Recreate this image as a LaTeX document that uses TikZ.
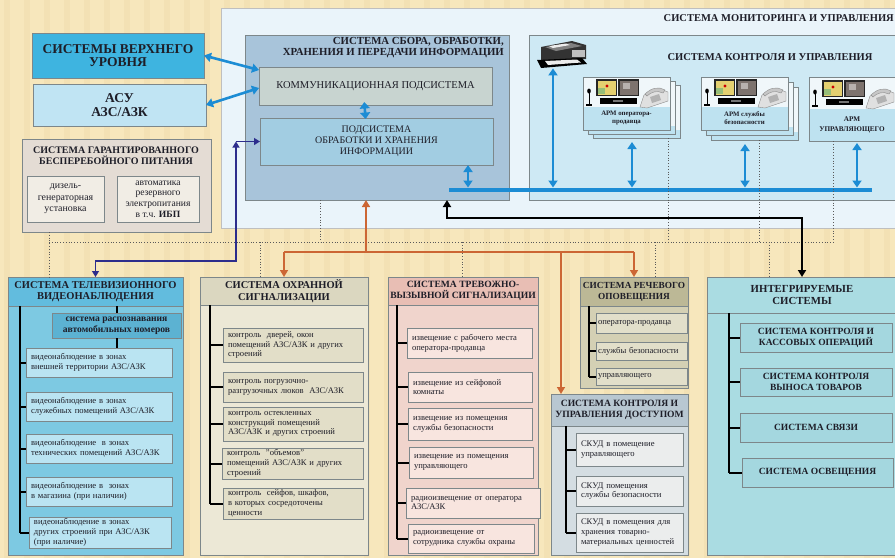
\documentclass[tikz,border=0pt]{standalone}
\usepackage{fontspec}
\setmainfont{Liberation Serif}
\usetikzlibrary{arrows.meta}
\definecolor{bg}{RGB}{247,231,188}
\definecolor{bgs}{RGB}{236,214,166}
\definecolor{bord}{RGB}{125,135,138}
\definecolor{monbg}{RGB}{234,244,250}
\definecolor{ctrlbg}{RGB}{206,233,244}
\definecolor{sbobg}{RGB}{168,196,218}
\definecolor{kommbg}{RGB}{200,212,208}
\definecolor{podbg}{RGB}{162,205,226}
\definecolor{vubg}{RGB}{62,180,224}
\definecolor{asubg}{RGB}{192,228,243}
\definecolor{pwbg}{RGB}{228,220,212}
\definecolor{pwin}{RGB}{241,237,229}
\definecolor{tvbg}{RGB}{125,201,226}
\definecolor{tvhd}{RGB}{98,188,222}
\definecolor{tvsub}{RGB}{92,178,210}
\definecolor{tvit}{RGB}{186,228,242}
\definecolor{ohbg}{RGB}{236,232,214}
\definecolor{ohhd}{RGB}{219,215,192}
\definecolor{ohit}{RGB}{226,222,200}
\definecolor{trbg}{RGB}{240,212,204}
\definecolor{trhd}{RGB}{232,190,180}
\definecolor{trit}{RGB}{248,229,223}
\definecolor{rebg}{RGB}{212,208,180}
\definecolor{rehd}{RGB}{188,184,150}
\definecolor{reit}{RGB}{226,223,202}
\definecolor{skbg}{RGB}{212,221,226}
\definecolor{skhd}{RGB}{184,199,209}
\definecolor{skit}{RGB}{235,237,237}
\definecolor{inbg}{RGB}{170,220,226}
\definecolor{init}{RGB}{164,215,223}
\definecolor{bluA}{RGB}{28,140,212}
\definecolor{navyA}{RGB}{45,45,140}
\definecolor{oraA}{RGB}{204,102,52}
\definecolor{dotc}{RGB}{90,90,90}
\definecolor{cardbg}{RGB}{240,247,250}
\definecolor{bandbg}{RGB}{190,226,240}
\definecolor{txt}{RGB}{30,30,40}
\definecolor{mapy}{RGB}{228,208,112}
\definecolor{mapg}{RGB}{150,190,120}
\definecolor{scrb}{RGB}{125,115,110}
\newcommand\myfs[2]{\fontsize{#1}{#2}\selectfont}
\newcommand\mkitem[7]{\node[it, fill=#2, minimum width=#5pt, minimum height=#6pt, text width=\the\numexpr#5-10\relax pt] (#1) at (#3,#4) {#7};}
\newcommand\apmicons[2]{%
\begin{scope}[shift={(#1,#2)}]
\fill[black!85] (13,2) rectangle (34,19);
\fill[mapy] (14.5,3.5) rectangle (32.5,17.5);
\fill[mapg] (15,11) rectangle (22,17);
\fill[red!80!black] (24,9) circle (1.6);
\fill[black!85] (35,2) rectangle (56,19);
\fill[scrb] (36.5,3.5) rectangle (54.5,17.5);
\fill[scrb!55!white] (40,6) rectangle (47,12);
\fill[black] (17,21) rectangle (54,27);
\fill[black!55] (30,22.5) rectangle (40,24.5);
\draw[black, line width=1pt] (6,16) -- (6,27);
\fill[black] (6,14) ellipse (1.8 and 2.5);
\fill[black] (3,27) rectangle (9,29);
\filldraw[fill=black!12, draw=black!45, line width=0.4pt] (57,30) -- (61,18) -- (77,12) -- (85,15) -- (85,24) -- (64,31) -- cycle;
\filldraw[fill=black!22, draw=black!45, line width=0.4pt] (62,17) .. controls (68,11) and (76,9) .. (82,13) -- (80,16) .. controls (74,13) and (68,15) .. (64,19) -- cycle;
\fill[black!30] (67,20) -- (76,17) -- (78,23) -- (69,26) -- cycle;
\end{scope}}
\tikzset{
 x=1pt, y=-1pt,
 bx/.style={draw=bord, line width=0.6pt, inner sep=0pt, outer sep=0pt, anchor=north west, text=txt},
 hd/.style={bx, align=center, font=\bfseries\myfs{10.5}{11.5}},
 it/.style={bx, align=left, font=\myfs{8.6}{9.8}},
 itc/.style={bx, align=center, font=\bfseries\myfs{9.5}{11}},
 ttl/.style={inner sep=0pt, text=txt, font=\bfseries\myfs{10.5}{11.5}},
 tree/.style={line width=2pt, black},
 barr/.style={line width=2.6pt, bluA, {Triangle[width=9pt,length=7pt]}-{Triangle[width=9pt,length=7pt]}},
 navl/.style={line width=1.2pt, navyA},
 oral/.style={line width=1.6pt, oraA},
 blkl/.style={line width=1.8pt, black},
 dotl/.style={line width=0.8pt, dotc, dotted},
 cardf/.style={bx, fill=cardbg, path picture={\fill[bandbg] ([yshift=#1]path picture bounding box.south west) rectangle (path picture bounding box.south east);}},
 armt/.style={inner sep=0pt, align=center, text=txt, font=\bfseries\myfs{6.8}{8}},
}
\begin{document}
\begin{tikzpicture}
\fill[bg] (0,0) rectangle (895,558);
\useasboundingbox (0,0) rectangle (895,558);
\foreach \i in {0,...,44} \fill[bgs, opacity=0.35] (\i*20+4,0) rectangle (\i*20+10,558);

% ---------- top region ----------
\node[bx, fill=monbg, draw=black!25, minimum width=680pt, minimum height=220pt] (mon) at (221,8) {};
\node[ttl, anchor=east] (montt) at (894,18) {СИСТЕМА МОНИТОРИНГА И УПРАВЛЕНИЯ};

\node[bx, fill=sbobg, minimum width=264pt, minimum height=165pt] (sbo) at (245,35) {};
\node[ttl, align=right, anchor=north east, font=\bfseries\myfs{10.8}{11.5}] (sbot) at (504,37) {СИСТЕМА СБОРА, ОБРАБОТКИ,\\ХРАНЕНИЯ И ПЕРЕДАЧИ ИНФОРМАЦИИ};
\node[bx, fill=kommbg, minimum width=233pt, minimum height=38pt, font=\myfs{10.5}{11}] (komm) at (259,67) {КОММУНИКАЦИОННАЯ ПОДСИСТЕМА};
\node[bx, fill=podbg, minimum width=233pt, minimum height=47pt, align=center, font=\myfs{10}{11}] (pod) at (260,118) {ПОДСИСТЕМА\\ОБРАБОТКИ И ХРАНЕНИЯ\\ИНФОРМАЦИИ};

\node[bx, fill=ctrlbg, minimum width=372pt, minimum height=165pt] (ctrl) at (529,35) {};
\node[ttl] (ctrlt) at (770,57) {СИСТЕМА КОНТРОЛЯ И УПРАВЛЕНИЯ};

% printer
\node[inner sep=0pt, minimum width=50pt, minimum height=28pt, anchor=north west] (prn) at (537,40) {};
\fill[black!80] (541,47) -- (572,41) -- (586,45) -- (586,59) -- (541,62) -- cycle;
\fill[black!50] (545,47) -- (571,43) -- (582,46) -- (556,51) -- cycle;
\fill[white!85!gray] (549,46) -- (566,43.5) -- (570,45) -- (553,48) -- cycle;
\fill[black!25] (572,50) rectangle (585,57);
\fill[black] (537,60) -- (582,58) -- (587,64) -- (541,68) -- cycle;
\fill[white!85!gray] (545,61) -- (577,59.5) -- (581,62.5) -- (548,65) -- cycle;

% APM cards
\node[cardf=8pt, minimum width=87pt, minimum height=53pt] (a1c) at (593,85) {};
\node[cardf=8pt, minimum width=87pt, minimum height=53pt] (a1b) at (588,81) {};
\node[cardf=23pt, minimum width=87pt, minimum height=53pt] (a1) at (583,77) {};
\apmicons{583}{77}
\node[armt] (a1t) at (626.5,118) {АРМ оператора-\\продавца};

\node[cardf=8pt, minimum width=87pt, minimum height=53pt] (a2c) at (711,87) {};
\node[cardf=8pt, minimum width=87pt, minimum height=53pt] (a2b) at (706,82) {};
\node[cardf=23pt, minimum width=87pt, minimum height=53pt] (a2) at (701,77) {};
\apmicons{701}{77}
\node[armt] (a2t) at (744.5,118) {АРМ службы\\безопасности};

\node[cardf=32pt, minimum width=90pt, minimum height=64pt] (a3) at (809,77) {};
\apmicons{809}{78}
\node[armt, font=\bfseries\myfs{7.2}{9.5}] (a3t) at (852,125) {АРМ\\УПРАВЛЯЮЩЕГО};

% bus and blue arrows
\coordinate (busL) at (449,190);
\coordinate (busR) at (872,190);
\coordinate (b0) at (468,187.5);
\coordinate (bp) at (553,187.5);
\coordinate (b1) at (632,187.5);
\coordinate (b2) at (745,187.5);
\coordinate (b3) at (857,187.5);
\draw[barr] (b0 |- pod.south) -- (b0);
\draw[barr] (bp |- prn.south) -- (bp);
\draw[barr, shorten <=4pt] (b1 |- a1c.south) -- (b1);
\draw[barr, shorten <=4pt] (b2 |- a2c.south) -- (b2);
\draw[barr, shorten <=2pt] (b3 |- a3.south) -- (b3);
\draw[bluA, line width=4.5pt] (busL) -- (busR);
\draw[line width=2.6pt, bluA, {Triangle[width=10pt,length=6.5pt]}-{Triangle[width=10pt,length=6.5pt]}, shorten <=-3pt, shorten >=-1pt] ([xshift=-11pt]komm.south) -- ([xshift=-11pt]pod.north);

% left top boxes
\node[bx, fill=vubg, minimum width=172pt, minimum height=45pt, align=center, font=\bfseries\myfs{13.5}{13.5}] (vu) at (32,33) {СИСТЕМЫ ВЕРХНЕГО\\УРОВНЯ};
\node[bx, fill=asubg, minimum width=173pt, minimum height=42pt, align=center, font=\bfseries\myfs{13.5}{14.5}] (asu) at (33,84) {АСУ\\АЗС/АЗК};
\draw[barr] (vu.east) -- ([yshift=16pt]komm.west);
\draw[barr] (asu.east) -- ([yshift=-2pt]komm.west);

\node[bx, fill=pwbg, minimum width=189pt, minimum height=93pt] (pw) at (22,139) {};
\node[ttl, align=center, font=\bfseries\myfs{10}{11}] (pwt) at (116,155.5) {СИСТЕМА ГАРАНТИРОВАННОГО\\БЕСПЕРЕБОЙНОГО ПИТАНИЯ};
\node[bx, fill=pwin, minimum width=77pt, minimum height=46pt, align=center, font=\myfs{9.9}{11.5}] (pw1) at (27,176) {дизель-\\генераторная\\установка};
\node[bx, fill=pwin, minimum width=82pt, minimum height=46pt, align=center, font=\myfs{9.6}{10.8}] (pw2) at (117,176) {автоматика\\резервного\\электропитания\\в т.ч. \textbf{ИБП}};

% ---------- bottom systems ----------
% TV
\node[bx, fill=tvbg, minimum width=175pt, minimum height=278pt] (tv) at (8,277) {};
\node[hd, fill=tvhd, minimum width=175pt, minimum height=29pt] (tvh) at (8,277) {СИСТЕМА ТЕЛЕВИЗИОННОГО\\ВИДЕОНАБЛЮДЕНИЯ};
\node[bx, fill=tvsub, minimum width=129pt, minimum height=25pt, align=center, font=\bfseries\myfs{9.6}{10.6}] (tvs) at (52,313) {система распознавания\\автомобильных номеров};
\mkitem{tv1}{tvit}{26}{348}{146}{29}{видеонаблюдение в зонах\\внешней территории АЗС/АЗК}
\mkitem{tv2}{tvit}{26}{392}{146}{29}{видеонаблюдение в зонах\\служебных помещений АЗС/АЗК}
\mkitem{tv3}{tvit}{26}{434}{146}{29}{видеонаблюдение \ в зонах\\технических помещений АЗС/АЗК}
\mkitem{tv4}{tvit}{26}{477}{146}{29}{видеонаблюдение в \ зонах\\в магазина (при наличии)}
\mkitem{tv5}{tvit}{29}{517}{142}{31}{видеонаблюдение в зонах\\других строений при АЗС/АЗК\\(при наличие)}
\coordinate (tvx) at (20,0);
\draw[tree] (tvx |- tvh.south) -- (tvx |- tv5.west);
\foreach \n in {tv1,tv2,tv3,tv4,tv5} \draw[tree] (tvx |- \n.west) -- (\n.west);
\draw[tree] (tvs.north) -- (tvs.north |- tvh.south);
\draw[tree] (tvs.south) -- (tvs.south |- tv1.north);

% Ohrannoy
\node[bx, fill=ohbg, minimum width=168pt, minimum height=278pt] (oh) at (200,277) {};
\node[hd, fill=ohhd, minimum width=168pt, minimum height=28pt] (ohh) at (200,277) {СИСТЕМА ОХРАННОЙ\\СИГНАЛИЗАЦИИ};
\mkitem{oh1}{ohit}{223}{328}{140}{34}{контроль \ дверей, окон\\помещений АЗС/АЗК и других\\строений}
\mkitem{oh2}{ohit}{223}{372}{140}{30}{контроль погрузочно-\\разгрузочных люков \ АЗС/АЗК}
\mkitem{oh3}{ohit}{223}{407}{140}{34}{контроль остекленных\\конструкций помещений\\АЗС/АЗК и других строений}
\mkitem{oh4}{ohit}{222}{448}{141}{31}{контроль \ "объемов"\\помещений АЗС/АЗК и других\\строений}
\mkitem{oh5}{ohit}{223}{488}{140}{31}{контроль \ сейфов, шкафов,\\в которых сосредоточены\\ценности}
\coordinate (ohx) at (210,0);
\draw[tree] (ohx |- ohh.south) -- (ohx |- oh5.west);
\foreach \n in {oh1,oh2,oh3,oh4,oh5} \draw[tree] (ohx |- \n.west) -- (\n.west);

% Trevozhno
\node[bx, fill=trbg, minimum width=150pt, minimum height=278pt] (tr) at (388,277) {};
\node[hd, fill=trhd, minimum width=150pt, minimum height=28pt, font=\bfseries\myfs{9.6}{11.5}] (trh) at (388,277) {СИСТЕМА ТРЕВОЖНО-\\ВЫЗЫВНОЙ СИГНАЛИЗАЦИИ};
\mkitem{tr1}{trit}{407}{328}{125}{30}{извещение с рабочего места\\оператора-продавца}
\mkitem{tr2}{trit}{408}{372}{124}{30}{извещение из сейфовой\\комнаты}
\mkitem{tr3}{trit}{408}{408}{124}{32}{извещение из помещения\\службы безопасности}
\mkitem{tr4}{trit}{409}{447}{124}{31}{извещение из помещения\\управляющего}
\mkitem{tr5}{trit}{406}{488}{134}{30}{радиоизвещение от оператора\\АЗС/АЗК}
\mkitem{tr6}{trit}{408}{524}{126}{29}{радиоизвещение от\\сотрудника службы охраны}
\coordinate (trx) at (397,0);
\draw[tree] (trx |- trh.south) -- (trx |- tr6.west);
\foreach \n in {tr1,tr2,tr3,tr4,tr5,tr6} \draw[tree] (trx |- \n.west) -- (\n.west);

% Rechevogo
\node[bx, fill=rebg, minimum width=108pt, minimum height=111pt] (re) at (580,277) {};
\node[hd, fill=rehd, minimum width=108pt, minimum height=29pt, font=\bfseries\myfs{9.3}{11}] (reh) at (580,277) {СИСТЕМА РЕЧЕВОГО\\ОПОВЕЩЕНИЯ};
\node[it, fill=reit, minimum width=91pt, minimum height=20pt, text width=87pt] (re1) at (596,313) {оператора-продавца};
\node[it, fill=reit, minimum width=91pt, minimum height=18pt, text width=87pt] (re2) at (596,342) {службы безопасности};
\node[it, fill=reit, minimum width=91pt, minimum height=17pt, text width=87pt] (re3) at (596,368) {управляющего};
\coordinate (rex) at (589,0);
\draw[tree] (rex |- reh.south) -- (rex |- re3.west);
\foreach \n in {re1,re2,re3} \draw[tree] (rex |- \n.west) -- (\n.west);

% SKUD
\node[bx, fill=skbg, minimum width=137pt, minimum height=161pt] (sk) at (551,394) {};
\node[hd, fill=skhd, minimum width=137pt, minimum height=32pt, font=\bfseries\myfs{9.6}{11}] (skh) at (551,394) {СИСТЕМА КОНТРОЛЯ И\\УПРАВЛЕНИЯ ДОСТУПОМ};
\mkitem{sk1}{skit}{576}{433}{107}{33}{СКУД в помещение\\управляющего}
\mkitem{sk2}{skit}{576}{476}{107}{30}{СКУД помещения\\службы безопасности}
\mkitem{sk3}{skit}{576}{513}{107}{39}{СКУД в помещения для\\хранения товарно-\\материальных ценностей}
\coordinate (skx) at (566,0);
\draw[tree] (skx |- skh.south) -- (skx |- sk3.west);
\foreach \n in {sk1,sk2,sk3} \draw[tree] (skx |- \n.west) -- (\n.west);

% Integrated
\node[bx, fill=inbg, minimum width=190pt, minimum height=278pt] (in) at (707,277) {};
\node[hd, fill=inbg, minimum width=190pt, minimum height=36pt, font=\bfseries\myfs{10.8}{12}] (inh) at (707,277) {ИНТЕГРИРУЕМЫЕ\\СИСТЕМЫ};
\node[itc, fill=init, minimum width=152pt, minimum height=29pt] (in1) at (740,323) {СИСТЕМА КОНТРОЛЯ И\\КАССОВЫХ ОПЕРАЦИЙ};
\node[itc, fill=init, minimum width=152pt, minimum height=28pt] (in2) at (740,368) {СИСТЕМА КОНТРОЛЯ\\ВЫНОСА ТОВАРОВ};
\node[itc, fill=init, minimum width=152pt, minimum height=29pt] (in3) at (740,413) {СИСТЕМА СВЯЗИ};
\node[itc, fill=init, minimum width=151pt, minimum height=29pt] (in4) at (742,458) {СИСТЕМА ОСВЕЩЕНИЯ};
\coordinate (inx) at (729,0);
\draw[tree] (inx |- inh.south) -- (inx |- in4.west);
\foreach \n in {in1,in2,in3,in4} \draw[tree] (inx |- \n.west) -- (\n.west);

% ---------- dotted network ----------
\coordinate (dl) at (49,242);
\coordinate (dr) at (833,242);
\coordinate (d2) at (260,242);
\coordinate (d3) at (320,242);
\coordinate (d4) at (462,242);
\coordinate (d5) at (655,242);
\coordinate (d6) at (668,242);
\coordinate (d7) at (759,242);
\coordinate (d8) at (769,242);
\draw[dotl] (dl) -- (dr);
\draw[dotl] (dl |- pw.south) -- (dl |- tvh.north);
\draw[dotl] (d2) -- (d2 |- ohh.north);
\draw[dotl] (d3 |- sbo.south) -- (d3);
\draw[dotl] (d4) -- (d4 |- trh.north);
\draw[dotl] (d5) -- (d5 |- reh.north);
\draw[dotl] (d6 |- a1c.south) -- (d6);
\draw[dotl] (d7 |- a2c.south) -- (d7);
\draw[dotl] (d8) -- (d8 |- inh.north);
\draw[dotl] (dr |- a3.south) -- (dr);

% ---------- coloured connectors ----------
\coordinate (nv) at (236,261);
\draw[navl, {Triangle[width=7pt,length=6pt]}-{Triangle[width=7pt,length=6pt]}] (pod.west -| nv) -- (nv) -- (nv -| tvh.north) -- (tvh.north);
\draw[navl, -{Triangle[width=7pt,length=6pt]}] (nv |- pod.west) -- (pod.west);

\coordinate (or1) at (366,252);
\coordinate (or2) at (561,252);
\draw[oral, -{Triangle[width=8pt,length=7pt]}] (or1) -- (or1 |- sbo.south);
\draw[oral] (ohh.north |- or1) -- (reh.north |- or1);
\draw[oral, -{Triangle[width=8pt,length=7pt]}] (ohh.north |- or1) -- (ohh.north);
\draw[oral, -{Triangle[width=8pt,length=7pt]}] (reh.north |- or1) -- (reh.north);
\draw[oral, -{Triangle[width=8pt,length=7pt]}] (or2) -- (or2 |- skh.north);

\coordinate (bk) at (447,218);
\draw[blkl, {Triangle[width=8pt,length=7pt]}-{Triangle[width=8pt,length=7pt]}] (bk |- sbo.south) -- (bk) -- (bk -| inh.north) -- (inh.north);
\end{tikzpicture}
\end{document}
